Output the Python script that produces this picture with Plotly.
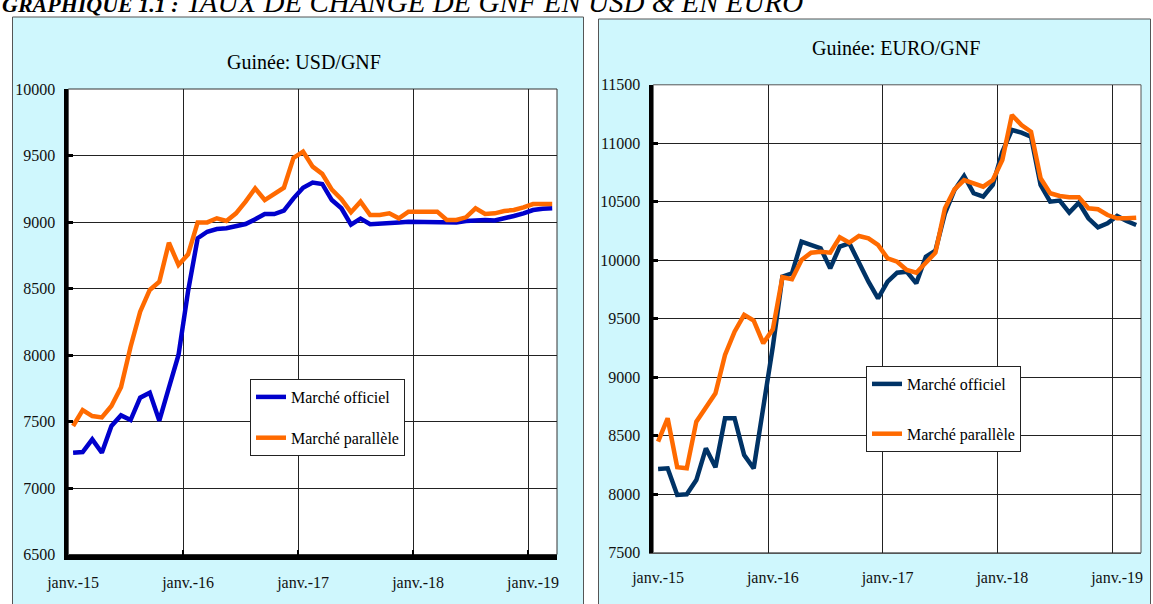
import plotly.graph_objects as go

# mois de janv.-15 a mars-19 (51 points)
mois = ['janv.', 'févr.', 'mars', 'avr.', 'mai', 'juin',
        'juil.', 'août', 'sept.', 'oct.', 'nov.', 'déc.']
annees = ['15', '16', '17', '18', '19']
dates = [m + '-' + a for a in annees for m in mois][:51]
rang = list(range(len(dates)))          # position de chaque mois sur l'axe
ticks = ['janv.-' + a for a in annees]
tick_pos = [dates.index(t) for t in ticks]
limites = [p - 0.5 for p in tick_pos[1:]]   # grille entre dec. et janv.

usd_officiel = [7265, 7270, 7366, 7265, 7466, 7546, 7511, 7679, 7717, 7506, 7754, 8000,
                8480, 8878, 8927, 8947, 8953, 8972, 8985, 9020, 9060, 9060, 9085, 9178,
                9258, 9296, 9286, 9165, 9103, 8980, 9025, 8983, 8990, 8995, 8997, 9002,
                9002, 9002, 9002, 9002, 8997, 9008, 9015, 9015, 9012, 9025, 9045, 9065,
                9090, 9100, 9103]
usd_parallele = [7466, 7586, 7541, 7531, 7617, 7757, 8062, 8326, 8489, 8551, 8844, 8677,
                 8757, 8997, 8997, 9028, 9008, 9065, 9153, 9253, 9165, 9216, 9258, 9482,
                 9529, 9416, 9362, 9244, 9172, 9074, 9153, 9053, 9053, 9065, 9028, 9078,
                 9078, 9085, 9078, 9015, 9015, 9035, 9103, 9060, 9065, 9083, 9090, 9110,
                 9135, 9135, 9135]
euro_officiel = [8216, 8222, 7994, 8000, 8122, 8393, 8231, 8650, 8650, 8336, 8222, 8750,
                 9262, 9860, 9889, 10159, 10131, 10103, 9932, 10117, 10145, 9974, 9817, 9675,
                 9817, 9894, 9903, 9803, 10031, 10082, 10402, 10601, 10721, 10573, 10544, 10644,
                 10928, 11114, 11091, 11056, 10644, 10501, 10510, 10407, 10492, 10359, 10282, 10316,
                 10379, 10336, 10302]
euro_parallele = [8450, 8650, 8231, 8222, 8621, 8735, 8863, 9191, 9390, 9533, 9484, 9291,
                  9410, 9855, 9838, 10003, 10065, 10074, 10065, 10197, 10151, 10208, 10188, 10131,
                  10017, 9988, 9917, 9894, 9980, 10065, 10444, 10607, 10686, 10658, 10629, 10686,
                  10857, 11242, 11156, 11099, 10701, 10573, 10550, 10538, 10538, 10444, 10436, 10387,
                  10359, 10359, 10364]

W, H = 1153, 604
serif = 'Liberation Serif'


def px(x):
    return x / W


def py(y):
    return 1 - y / H


fig = go.Figure()
fig.add_trace(go.Scatter(x=rang, y=usd_officiel, name='Marché officiel', mode='lines',
                         customdata=dates, line=dict(color='#0000CC', width=4.5),
                         xaxis='x', yaxis='y', legend='legend', legendgroup='a'))
fig.add_trace(go.Scatter(x=rang, y=usd_parallele, name='Marché parallèle', mode='lines',
                         customdata=dates, line=dict(color='#FF6A00', width=4.5),
                         xaxis='x', yaxis='y', legend='legend', legendgroup='b'))
fig.add_trace(go.Scatter(x=rang, y=euro_officiel, name='Marché officiel', mode='lines',
                         customdata=dates, line=dict(color='#003366', width=4.5),
                         xaxis='x2', yaxis='y2', legend='legend2', legendgroup='c'))
fig.add_trace(go.Scatter(x=rang, y=euro_parallele, name='Marché parallèle', mode='lines',
                         customdata=dates, line=dict(color='#FF6A00', width=4.5),
                         xaxis='x2', yaxis='y2', legend='legend2', legendgroup='d'))

xcommon = dict(type='linear', tickmode='array', tickvals=tick_pos, ticktext=ticks,
               range=[-0.5, len(dates) - 0.5], tickangle=0, automargin=False,
               showgrid=False, zeroline=False, showline=True, linecolor='black',
               ticks='', ticklabelstandoff=10,
               tickfont=dict(family=serif, size=16, color='#111'),
               minor=dict(tickmode='array', tickvals=limites, showgrid=True,
                          gridcolor='#222', gridwidth=1, ticks='inside', ticklen=5,
                          tickwidth=2, tickcolor='black'))
ycommon = dict(dtick=500, tickformat='d', showgrid=True, gridcolor='#222', gridwidth=1,
               zeroline=False, automargin=False,
               showline=True, linecolor='black', linewidth=3.5, ticks='inside',
               ticklen=5, tickwidth=3, tickcolor='black', ticklabelstandoff=6,
               tickfont=dict(family=serif, size=16, color='#111'))

fig.update_layout(
    xaxis=dict(xcommon, domain=[px(68.3), px(557)], anchor='y', linewidth=4.5),
    yaxis=dict(ycommon, domain=[py(554.5), py(89)], anchor='x', range=[6500, 10000], tick0=6500),
    xaxis2=dict(xcommon, domain=[px(653.3), px(1141)], anchor='y2', linewidth=1, linecolor='#555'),
    yaxis2=dict(ycommon, domain=[py(552.8), py(84.8)], anchor='x2', range=[7500, 11500], tick0=7500),
)
fig.update_layout(xaxis2_minor_ticks='')

# panneaux bleu clair et zones de trace
fig.update_layout(shapes=[
    dict(type='rect', xref='paper', yref='paper', x0=px(12.5), x1=px(583.5), y0=-0.05, y1=py(17),
         fillcolor='#CFF7FD', line=dict(color='#555', width=1), layer='below'),
    dict(type='rect', xref='paper', yref='paper', x0=px(598.5), x1=px(1150.5), y0=-0.05, y1=py(19),
         fillcolor='#CFF7FD', line=dict(color='#555', width=1), layer='below'),
    dict(type='rect', xref='paper', yref='paper', x0=px(68.3), x1=px(557), y0=py(554.5), y1=py(89),
         fillcolor='white', line=dict(color='#333', width=1), layer='below'),
    dict(type='rect', xref='paper', yref='paper', x0=px(653.3), x1=px(1141), y0=py(552.8), y1=py(84.8),
         fillcolor='white', line=dict(color='#555', width=1), layer='below'),
])

titre = ('<span style="font-size:22px"><b>GRAPHIQUE 1.1 :</b></span>'
         ' TAUX DE CHANGE DE GNF EN USD &amp; EN EURO')
fig.update_layout(annotations=[
    dict(text='<i>' + titre + '</i>',
         x=0, y=py(2.5), xref='paper', yref='paper', xanchor='left', yanchor='middle',
         showarrow=False, font=dict(family=serif, size=29, color='black')),
    dict(text='Guinée: USD/GNF', x=px(304), y=py(62), xref='paper', yref='paper',
         xanchor='center', yanchor='middle',
         showarrow=False, font=dict(family=serif, size=20, color='black')),
    dict(text='Guinée: EURO/GNF', x=px(896), y=py(48), xref='paper', yref='paper',
         xanchor='center', yanchor='middle',
         showarrow=False, font=dict(family=serif, size=20, color='black')),
])

legend_style = dict(xanchor='left', yanchor='top', bgcolor='white', bordercolor='#222',
                    borderwidth=1, itemwidth=30, traceorder='grouped',
                    font=dict(family=serif, size=16, color='black'))
fig.update_layout(
    legend=dict(legend_style, x=px(250), y=py(379), tracegroupgap=17),
    legend2=dict(legend_style, x=px(866), y=py(366), tracegroupgap=26),
    showlegend=True,
    width=W, height=H,
    margin=dict(l=0, r=0, t=0, b=0),
    paper_bgcolor='white',
    plot_bgcolor='white',
)

fig.write_html('out.html', config={'displayModeBar': False},
               post_script="document.body.style.margin='0px';")
